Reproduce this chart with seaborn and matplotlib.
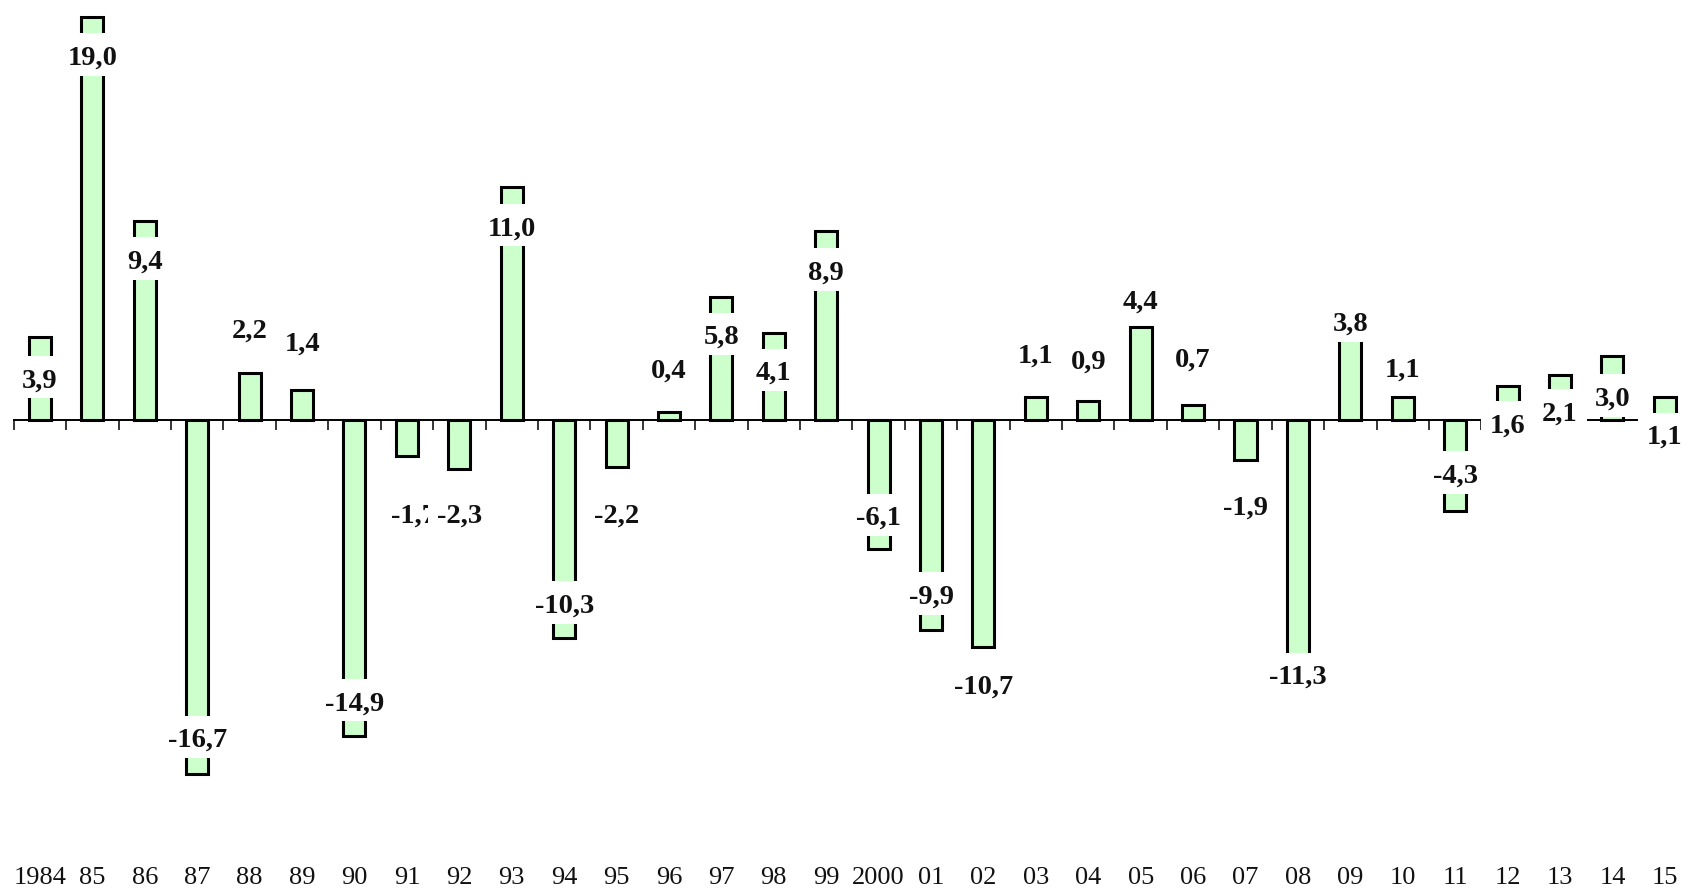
import matplotlib
matplotlib.use("Agg")
import matplotlib.pyplot as plt
import matplotlib.ticker as mticker
from matplotlib.path import Path
import numpy as np
import pandas as pd
import seaborn as sns

# Annual change, per cent
years = ["1984", "85", "86", "87", "88", "89", "90", "91", "92", "93", "94",
         "95", "96", "97", "98", "99", "2000", "01", "02", "03", "04", "05",
         "06", "07", "08", "09", "10", "11", "12", "13", "14", "15"]
values = [3.9, 19.0, 9.4, -16.7, 2.2, 1.4, -14.9, -1.7, -2.3, 11.0, -10.3,
          -2.2, 0.4, 5.8, 4.1, 8.9, -6.1, -9.9, -10.7, 1.1, 0.9, 4.4,
          0.7, -1.9, -11.3, 3.8, 1.1, -4.3, 1.6, 2.1, 3.0, 1.1]

# Where each value label sits, relative to the end of its bar (data units)
label_shift = [-2.05, -1.93, -1.96, 1.58, 1.99, 2.18, 1.51, -2.85, -2.25, -1.98, 1.53,
               -2.35, 1.89, -1.91, -1.91, -1.97, 1.45, 1.54, -1.88, 1.92, 1.81, 1.16,
               2.12, -2.24, -0.85, 0.73, 1.23, 1.66, -1.88, -1.82, -2.03, -1.93]
# sideways nudge for labels that would collide (category units)
label_nudge = {7: 0.13}

df = pd.DataFrame({"year": years, "value": values})

sns.set_theme(style="white")
plt.rcParams["font.family"] = ["Liberation Serif", "DejaVu Serif"]

W, H, DPI = 1688, 890, 100
fig = plt.figure(figsize=(W / DPI, H / DPI), dpi=DPI)

# axes geometry in pixels
x_left, x_right = 13.8, 1691.0
ylo, yhi = -19.0, 19.8
zero_px, px_per_unit = 420.0, 21.2
top_px = zero_px - yhi * px_per_unit
bot_px = zero_px - ylo * px_per_unit
ax = fig.add_axes([x_left / W, 1 - bot_px / H, (x_right - x_left) / W, (bot_px - top_px) / H])

sns.barplot(data=df, x="year", y="value", color="#ccffcc", saturation=1,
            edgecolor="black", linewidth=2.2, width=0.42, ax=ax, zorder=3)

ax.set_xlim(-0.5, len(years) - 0.5)
ax.set_ylim(ylo, yhi)
ax.set_xlabel("")
ax.set_ylabel("")
ax.set_yticks([])

for side in ("top", "right", "left"):
    ax.spines[side].set_visible(False)
ax.spines["bottom"].set_position(("data", 0))
ax.spines["bottom"].set_linewidth(1.4)
ax.spines["bottom"].set_color("black")
ax.spines["bottom"].set_zorder(2.5)

# category boundaries get tick marks; year names sit far below the zero line
ax.xaxis.set_major_locator(mticker.FixedLocator(np.arange(len(years))))
ax.xaxis.set_major_formatter(mticker.FixedFormatter(years))
ax.xaxis.set_minor_locator(mticker.FixedLocator(np.arange(len(years)) - 0.5))
ax.tick_params(axis="x", which="major", length=0, pad=322, labelsize=19,
               labelcolor="#111111")
ax.tick_params(axis="x", which="minor", bottom=True, direction="out",
               length=7.2, width=1.1, color="black")


def label_box(x0, y0, width, height, mutation_size):
    """White label backing with more room above the text than below."""
    px = 0.32 * mutation_size
    top = 0.44 * mutation_size
    bot = 0.18 * mutation_size
    xa, xb = x0 - px, x0 + width + px
    ya, yb = y0 - bot, y0 + height + top
    return Path([(xa, ya), (xb, ya), (xb, yb), (xa, yb), (xa, ya)], closed=True)


for i, (v, s) in enumerate(zip(values, label_shift)):
    txt = f"{v:.1f}".replace(".", ",")
    ax.text(i + label_nudge.get(i, 0.0), v + s, txt, ha="center", va="center",
            fontsize=20.5, fontweight="bold", color="#111111", zorder=5,
            bbox=dict(boxstyle=label_box, facecolor="white", edgecolor="none"))

fig.savefig("out.png", dpi=DPI, facecolor="white")
